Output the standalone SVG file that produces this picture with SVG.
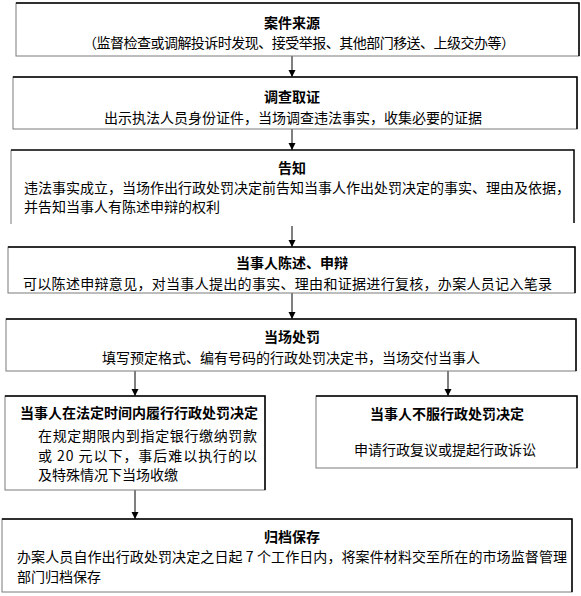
<svg xmlns="http://www.w3.org/2000/svg" width="581" height="596" viewBox="0 0 581 596">
<defs>
<marker id="ah" markerWidth="8" markerHeight="8" refX="7" refY="4" orient="auto" markerUnits="userSpaceOnUse">
<path d="M0,0.5 L7,4 L0,7.5 z" fill="#000"/>
</marker>
<style>
.box{fill:#fff;stroke:#7a7a7a;stroke-width:1}
.edge{fill:none;stroke:#000;stroke-width:1.5}
.side{fill:none;stroke:#7a7a7a;stroke-width:1}
.t{font-family:"Noto Sans CJK SC","Noto Sans",sans-serif;font-size:14px;font-weight:bold;fill:#000;text-anchor:middle}
.b{font-family:"Noto Sans CJK SC","Noto Sans",sans-serif;font-size:14px;fill:#000}
.c{text-anchor:middle}
.conn{stroke:#000;stroke-width:1;fill:none;marker-end:url(#ah)}
</style>
</defs>
<rect width="581" height="596" fill="#fff"/>
<g id="connectors">
<line class="conn" x1="292" y1="56" x2="292" y2="77"/>
<line class="conn" x1="292" y1="129" x2="292" y2="150"/>
<line class="conn" x1="292" y1="226" x2="292" y2="247"/>
<line class="conn" x1="292" y1="293" x2="292" y2="319"/>
<line class="conn" x1="135" y1="371" x2="135" y2="396"/>
<line class="conn" x1="448" y1="371" x2="448" y2="396"/>
<line class="conn" x1="135" y1="490" x2="135" y2="519"/>
</g>
<g id="n1">
<rect class="box" x="16" y="3" width="563" height="53"/>
<polyline class="edge" points="16,3 579,3 579,56"/>
<text class="t" x="292" y="28">案件来源</text>
<text class="b" x="83" y="48" textLength="432" lengthAdjust="spacing">（监督检查或调解投诉时发现、接受举报、其他部门移送、上级交办等）</text>
</g>
<g id="n2">
<rect class="box" x="13" y="77" width="564" height="52"/>
<polyline class="edge" points="13,77 577,77 577,129"/>
<text class="t" x="292" y="102">调查取证</text>
<text class="b c" x="293" y="123">出示执法人员身份证件，当场调查违法事实，收集必要的证据</text>
</g>
<g id="n3">
<polyline class="side" points="11,224 11,150"/>
<polyline class="edge" points="11,150 574,150 574,223"/>
<text class="t" x="292" y="173">告知</text>
<text class="b" x="24" y="193" textLength="546" lengthAdjust="spacing">违法事实成立，当场作出行政处罚决定前告知当事人作出处罚决定的事实、理由及依据，</text>
<text class="b" x="24" y="212">并告知当事人有陈述申辩的权利</text>
</g>
<g id="n4">
<rect class="box" x="8" y="247" width="567" height="46"/>
<polyline class="edge" points="8,247 575,247 575,293"/>
<text class="t" x="292" y="268">当事人陈述、申辩</text>
<text class="b" x="23" y="289" textLength="529" lengthAdjust="spacing">可以陈述申辩意见，对当事人提出的事实、理由和证据进行复核，办案人员记入笔录</text>
</g>
<g id="n5">
<rect class="box" x="6" y="319" width="570" height="52"/>
<polyline class="edge" points="6,319 576,319 576,371"/>
<text class="t" x="292" y="342">当场处罚</text>
<text class="b c" x="291" y="363">填写预定格式、编有号码的行政处罚决定书，当场交付当事人</text>
</g>
<g id="n6">
<rect class="box" x="5" y="396" width="260" height="94"/>
<polyline class="edge" points="5,396 265,396 265,490"/>
<text class="t" x="139" y="418">当事人在法定时间内履行行政处罚决定</text>
<text class="b" x="38" y="441" textLength="219" lengthAdjust="spacing">在规定期限内到指定银行缴纳罚款</text>
<text class="b" x="38" y="461" textLength="219" lengthAdjust="spacing">或 20 元以下，事后难以执行的以</text>
<text class="b" x="38" y="480">及特殊情况下当场收缴</text>
</g>
<g id="n7">
<rect class="box" x="316" y="396" width="261" height="72"/>
<polyline class="edge" points="316,396 577,396 577,468"/>
<text class="t" x="447" y="419">当事人不服行政处罚决定</text>
<text class="b c" x="445" y="455">申请行政复议或提起行政诉讼</text>
</g>
<g id="n8">
<rect class="box" x="2" y="519" width="570" height="73"/>
<polyline class="edge" points="2,519 572,519 572,592"/>
<text class="t" x="292" y="542">归档保存</text>
<text class="b" x="17" y="562" textLength="550" lengthAdjust="spacing">办案人员自作出行政处罚决定之日起 7 个工作日内，将案件材料交至所在的市场监督管理</text>
<text class="b" x="17" y="582">部门归档保存</text>
</g>
</svg>
